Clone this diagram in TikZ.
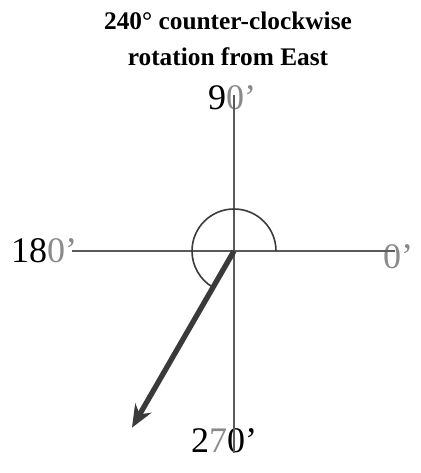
\documentclass[tikz,border=0pt]{standalone}
\usepackage{fontspec}
\setmainfont{Liberation Serif}
\usetikzlibrary{arrows.meta, positioning}

\definecolor{axisgray}{HTML}{5A5A5A}
\definecolor{arrowgray}{HTML}{3A3A3A}
\definecolor{penlight}{HTML}{8A8A8A}

\begin{document}
\begin{tikzpicture}[x=0.75pt, y=0.75pt, >=Stealth]

    % Define the styles
    \tikzstyle{axis} = [draw=axisgray, line width=1.4pt]
    \tikzstyle{hand} = [font=\fontsize{27}{27}\selectfont, inner sep=0pt]
    \tikzstyle{title} = [font=\fontsize{19}{27}\selectfont\bfseries, align=center]
    \tikzstyle{turn} = [draw=arrowgray, line width=4pt, -{Stealth[length=17pt, width=14pt]}]

    \useasboundingbox (-234,-222) rectangle (186,251);

    % Nodes
    \coordinate (o) at (0,0);
    \node (title) [title] at (-6,212) {240° counter-clockwise\\rotation from East};
    \node (n90) [hand] at (-2,153) {9\textcolor{penlight}{0}\textcolor{penlight}{'}};
    \node (n180) [hand] at (-190,0) {18\textcolor{penlight}{0}\textcolor{penlight}{'}};
    \node (n0) [hand, text=penlight] at (164,-6) {0'};
    \node (n270) [hand] at (-10,-190) {2\textcolor{penlight}{7}0'};

    \coordinate (top) at (0,156);
    \coordinate (bottom) at (0,-202);
    \coordinate (left) at (-162,0);
    \coordinate (right) at (161,0);
    \coordinate (tip) at (240:204);

    % Axes
    \draw [axis] (top) -- (bottom);
    \draw [axis] (left) -- (right);

    % Turned angle
    \draw [draw=arrowgray, line width=1.2pt] (42,0) arc[start angle=0, end angle=240, radius=42];
    \draw [turn] (o) -- (tip);

\end{tikzpicture}
\end{document}
